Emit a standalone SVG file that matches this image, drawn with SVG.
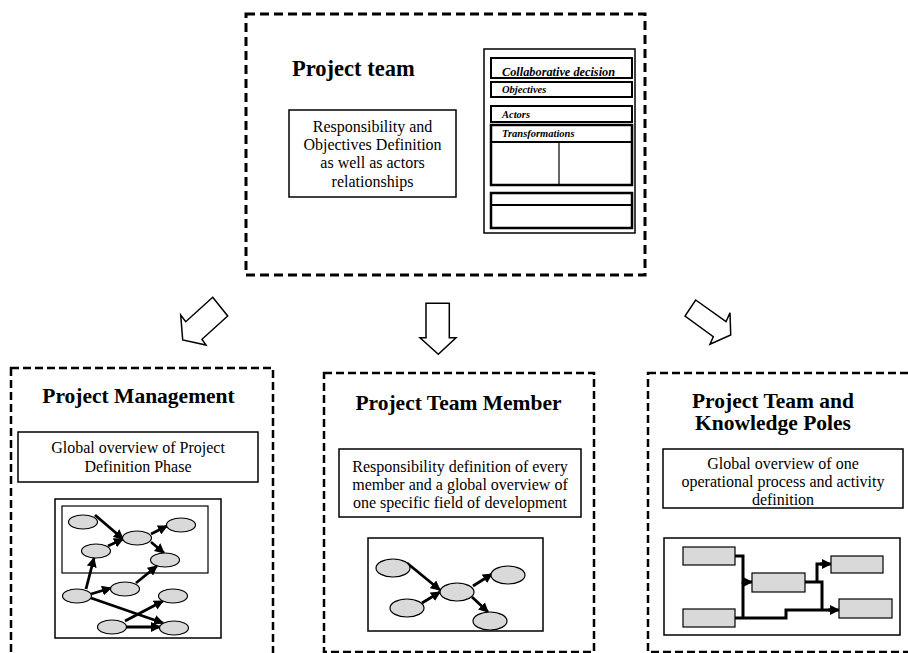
<svg xmlns="http://www.w3.org/2000/svg" width="908" height="653" viewBox="0 0 908 653">
<defs>
<style>
.dash1{fill:none;stroke:#000;stroke-width:3;stroke-dasharray:9 5}
.dash2{fill:none;stroke:#000;stroke-width:2.5;stroke-dasharray:8 4}
.box{fill:#fff;stroke:#000;stroke-width:1.5}
.frm{fill:none;stroke:#000;stroke-width:2}
.frmt{fill:none;stroke:#000;stroke-width:2.5}
.thin{fill:none;stroke:#000;stroke-width:1.2}
.blk{fill:#fff;stroke:#000;stroke-width:1.5;stroke-linejoin:miter}
.node{fill:#d9d9d9;stroke:#000;stroke-width:1.2}
.edge{fill:none;stroke:#000;stroke-width:2.8;marker-end:url(#ah)}
.wire{fill:none;stroke:#000;stroke-width:3}
.title{font-family:"Liberation Serif","Times New Roman",serif;font-weight:bold;font-size:21.5px;fill:#000}
.body{font-family:"Liberation Serif","Times New Roman",serif;font-size:16px;fill:#000;text-anchor:middle}
.fi{font-family:"Liberation Serif","Times New Roman",serif;font-weight:bold;font-style:italic;font-size:10.5px;fill:#000}
</style>
<marker id="ah" viewBox="0 0 10 10" refX="9" refY="5" markerWidth="10" markerHeight="10" markerUnits="userSpaceOnUse" orient="auto">
<path d="M0,0 L10,5 L0,10 z" fill="#000"/>
</marker>
</defs>

<g id="project-team">
<rect class="dash1" x="246" y="14" width="399" height="261"/>
<text class="title" x="292" y="76" style="font-size:22.5px">Project team</text>
<rect class="box" x="289" y="110" width="167" height="87"/>
<text class="body" x="372.5" y="132">Responsibility and</text>
<text class="body" x="372.5" y="150">Objectives Definition</text>
<text class="body" x="372.5" y="168">as well as actors</text>
<text class="body" x="372.5" y="187">relationships</text>
<g id="form">
<rect class="box" x="484" y="49" width="151" height="184"/>
<rect class="frm" x="491" y="58" width="141" height="20"/>
<text class="fi" x="502" y="76" style="font-size:12.3px">Collaborative decision</text>
<rect class="frm" x="491" y="82" width="141" height="15"/>
<text class="fi" x="502" y="93">Objectives</text>
<rect class="frm" x="491" y="106" width="141" height="16"/>
<text class="fi" x="502" y="118">Actors</text>
<rect class="frmt" x="491" y="125" width="141" height="60"/>
<line class="frm" x1="491" y1="142" x2="632" y2="142"/>
<line class="thin" x1="559" y1="142" x2="559" y2="185"/>
<text class="fi" x="502" y="137">Transformations</text>
<rect class="frmt" x="491" y="193" width="141" height="35"/>
<line class="frm" x1="491" y1="205" x2="632" y2="205"/>
</g>
</g>

<g id="connectors">
<polygon class="blk" points="212.7,297.3 227.7,316 202,339.3 206,345 182.7,340 180.7,315 185.7,321.7"/>
<polygon class="blk" points="426,303.3 449.3,303.3 449.3,337.7 456,337.7 438.3,354.3 420,337.7 426,337.7"/>
<polygon class="blk" points="695.7,300 726,321.7 730,312.7 730.7,335 710,344.3 713.3,336.7 685,316"/>
</g>

<g id="project-management">
<rect class="dash2" x="11" y="368" width="262" height="300"/>
<text class="title" x="138.5" y="403" text-anchor="middle">Project Management</text>
<rect class="box" x="18" y="432" width="240" height="50"/>
<text class="body" x="138" y="453">Global overview of Project</text>
<text class="body" x="138" y="472">Definition Phase</text>
<rect class="box" x="55" y="499" width="166" height="139"/>
<rect class="thin" x="62" y="506" width="146" height="67"/>
<g id="pm-edges">
<path class="edge" d="M95,515 L123,539"/>
<path class="edge" d="M108,546 L123,539"/>
<path class="edge" d="M151,534 L167,526"/>
<path class="edge" d="M151,542 L164,553"/>
<path class="edge" d="M86,589 L94,558"/>
<path class="edge" d="M91,594 L111,588"/>
<path class="edge" d="M136,583 L157,566"/>
<path class="edge" d="M91,598 L163,623"/>
<path class="edge" d="M125,621 L163,601"/>
<path class="edge" d="M126,627 L160,627"/>
</g>
<ellipse class="node" cx="83" cy="522" rx="14.5" ry="7"/>
<ellipse class="node" cx="96" cy="551" rx="14.5" ry="7"/>
<ellipse class="node" cx="137" cy="538" rx="14.5" ry="7"/>
<ellipse class="node" cx="181" cy="525" rx="14.5" ry="7"/>
<ellipse class="node" cx="165" cy="560" rx="14.5" ry="7"/>
<ellipse class="node" cx="77" cy="596" rx="14.5" ry="7"/>
<ellipse class="node" cx="125" cy="589" rx="14.5" ry="7"/>
<ellipse class="node" cx="173" cy="596" rx="14.5" ry="7"/>
<ellipse class="node" cx="112" cy="627" rx="14.5" ry="7"/>
<ellipse class="node" cx="174" cy="628" rx="14.5" ry="7"/>
</g>

<g id="project-team-member">
<rect class="dash2" x="324" y="373" width="270" height="279"/>
<text class="title" x="458.5" y="410" text-anchor="middle">Project Team Member</text>
<rect class="box" x="339" y="449" width="242" height="68"/>
<text class="body" x="460" y="472">Responsibility definition of every</text>
<text class="body" x="460" y="490">member and a global overview of</text>
<text class="body" x="460" y="508">one specific field of development</text>
<rect class="box" x="368" y="538" width="175" height="93"/>
<path class="edge" d="M407,563 L440,590"/>
<path class="edge" d="M422,603 L440,592"/>
<path class="edge" d="M473,586 L492,574"/>
<path class="edge" d="M472,597 L488,612"/>
<ellipse class="node" cx="393" cy="568" rx="17" ry="9"/>
<ellipse class="node" cx="407" cy="608" rx="17" ry="9"/>
<ellipse class="node" cx="457" cy="592" rx="17" ry="9"/>
<ellipse class="node" cx="508" cy="575" rx="17" ry="9"/>
<ellipse class="node" cx="490" cy="621" rx="17" ry="9"/>
</g>

<g id="project-team-knowledge-poles">
<rect class="dash2" x="648" y="373" width="280" height="279"/>
<text class="title" x="773" y="408" text-anchor="middle">Project Team and</text>
<text class="title" x="773" y="430" text-anchor="middle">Knowledge Poles</text>
<rect class="box" x="663" y="449" width="240" height="59"/>
<text class="body" x="783" y="469">Global overview of one</text>
<text class="body" x="783" y="487">operational process and activity</text>
<text class="body" x="783" y="505">definition</text>
<rect class="box" x="664" y="538" width="236" height="97"/>
<path class="wire" d="M735,556 H743 V582 H744" />
<path class="edge" style="stroke-width:3" d="M743,582 H752"/>
<path class="wire" d="M743,618 V582"/>
<path class="wire" d="M735,618 H786 V610 H830"/>
<path class="edge" style="stroke-width:3" d="M828,610 H839"/>
<path class="wire" d="M805,582 H822 V610"/>
<path class="wire" d="M817,582 V564 H822"/>
<path class="edge" style="stroke-width:3" d="M820,564 H831"/>
<rect class="node" x="683" y="547" width="52" height="18"/>
<rect class="node" x="683" y="609" width="52" height="18"/>
<rect class="node" x="752" y="573" width="53" height="19"/>
<rect class="node" x="831" y="556" width="52" height="17"/>
<rect class="node" x="839" y="599" width="53" height="19"/>
</g>
</svg>
